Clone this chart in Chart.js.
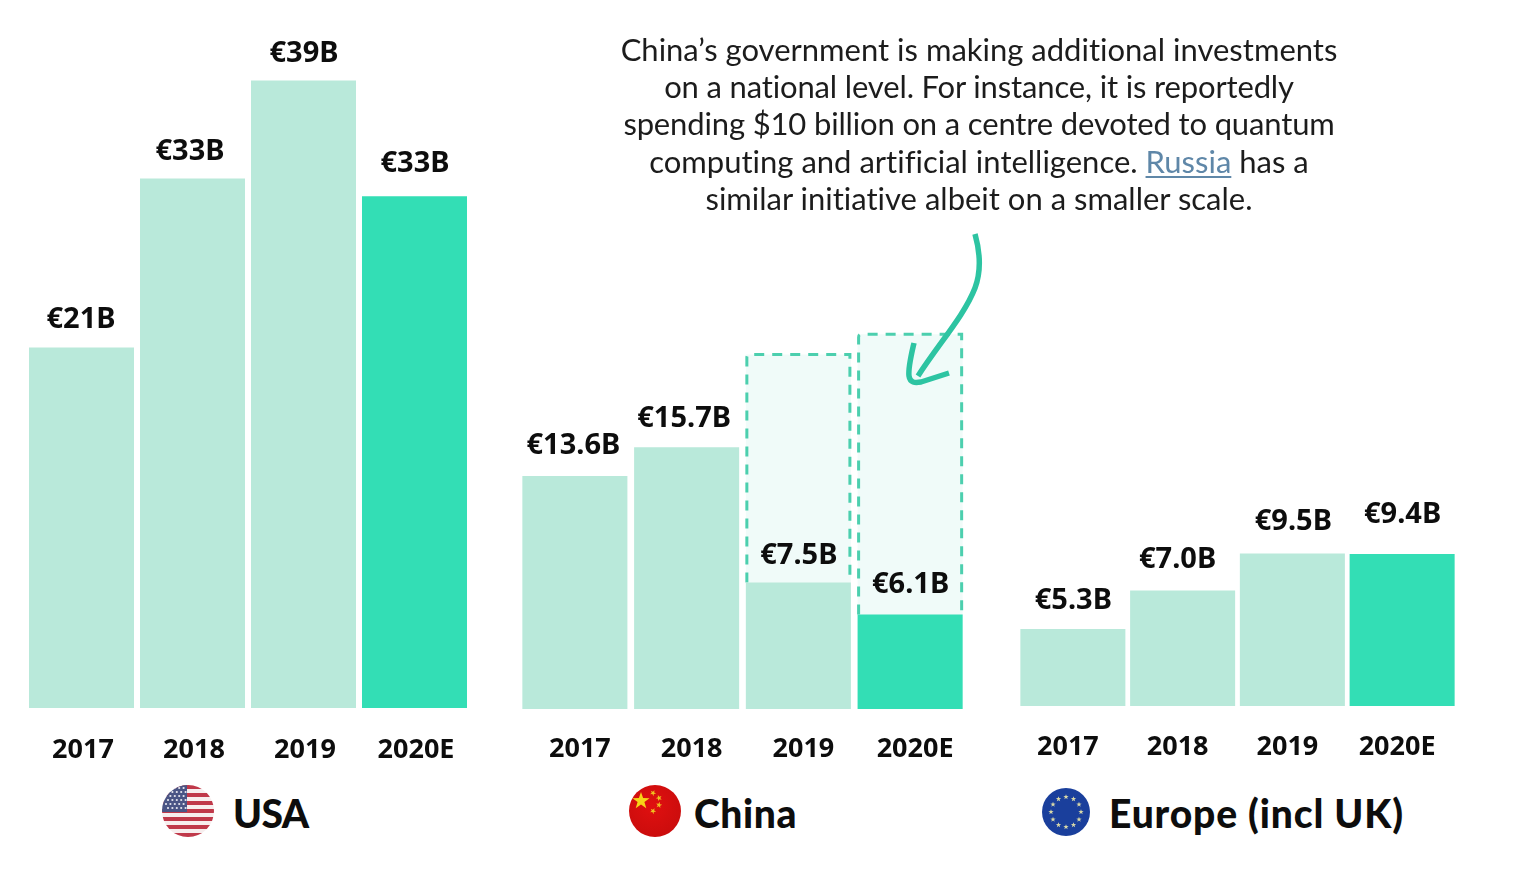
<!DOCTYPE html>
<html>
<head>
<meta charset="utf-8">
<script src="https://cdn.jsdelivr.net/npm/chart.js@4/dist/chart.umd.min.js"></script>
<style>
  html, body { margin: 0; padding: 0; background: #fff; }
  body { position: relative; width: 1526px; height: 891px; overflow: hidden; }
  canvas { position: absolute; top: 0; }
  .note { position: absolute; left: 479px; width: 1000px; text-align: center; white-space: nowrap;
          font: 400 31px/37px Lato, sans-serif; color: #1c1c1c; font-variant-ligatures: none; }
  .note a { color: #5f87a8; text-decoration: underline; text-decoration-thickness: 2px; text-underline-offset: 3px; }
  .title { position: absolute; top: 786px; font: 900 39px/54px Lato, sans-serif; color: #0d0d0d; white-space: nowrap; }
  svg { position: absolute; left: 0; top: 0; pointer-events: none; }
</style>
</head>
<body>
<canvas id="usa"></canvas>
<canvas id="china"></canvas>
<canvas id="europe"></canvas>

<div class="note" style="top:31px">China’s government is making additional investments</div>
<div class="note" style="top:68px;letter-spacing:-0.15px">on a national level. For instance, it is reportedly</div>
<div class="note" style="top:105px;letter-spacing:-0.15px">spending $10 billion on a centre devoted to quantum</div>
<div class="note" style="top:143px">computing and artificial intelligence. <a>Russia</a> has a</div>
<div class="note" style="top:180px">similar initiative albeit on a smaller scale.</div>

<div class="title" style="left:233px;letter-spacing:-0.6px">USA</div>
<div class="title" style="left:694px;letter-spacing:0.6px">China</div>
<div class="title" style="left:1109px;letter-spacing:0.85px">Europe (incl UK)</div>

<svg id="overlay" width="1526" height="891" xmlns="http://www.w3.org/2000/svg">
  <defs>
    <clipPath id="usClip"><circle cx="188" cy="811" r="26"/></clipPath>
    <radialGradient id="cnFill" cx="0.45" cy="0.4" r="0.7">
      <stop offset="0" stop-color="#e01010"/><stop offset="1" stop-color="#c80c0c"/>
    </radialGradient>
  </defs>
  <g id="usFlag" clip-path="url(#usClip)"></g>
  <g id="cnFlag"></g>
  <g id="euFlag"></g>
  <g fill="none" stroke="#2dc4a2" stroke-width="5.5" stroke-linecap="butt" stroke-linejoin="round">
    <path d="M975 234 C980 252 981 272 975 288 C964 316 940 342 918 376"/>
    <path d="M914 343 C911 356 908 368 909 376 C910 383 915 383 921 382 L949 373"/>
  </g>
</svg>

<script>
// Chart data. The printed labels do not always agree with
// the drawn bar heights in the original, so both are kept.
const years = ['2017', '2018', '2019', '2020E'];

const usaValues = [22.4, 32.9, 39.0, 31.8];
const usaLabels = ['€21B', '€33B', '€39B', '€33B'];

const chinaValues = [13.8, 15.5, 7.5, 5.6];
const chinaPlanned = [null, null, 21.0, 22.2];
const chinaLabels = ['€13.6B', '€15.7B', '€7.5B', '€6.1B'];

const europeValues = [4.8, 7.2, 9.5, 9.47];
const europeLabels = ['€5.3B', '€7.0B', '€9.5B', '€9.4B'];

const LIGHT = '#b9e9da';
const STRONG = '#33deb5';
const LABEL_FONT = '"Noto Sans", sans-serif';

// value labels above the bars, plus the dashed outline of the planned bars
const barExtras = {
  id: 'barExtras',
  beforeDatasetDraw(chart, args, opts) {
    if (args.index !== 0 || chart.data.datasets.length < 2) return;
    const { ctx } = chart;
    const solid = chart.getDatasetMeta(0).data;
    ctx.save();
    ctx.strokeStyle = '#4ccfae';
    ctx.lineWidth = 3;
    ctx.setLineDash([10, 8]);
    chart.getDatasetMeta(1).data.forEach((bar, i) => {
      if (chart.data.datasets[1].data[i] == null) return;
      const l = bar.x - bar.width / 2, r = bar.x + bar.width / 2;
      const bottom = solid[i].y;   // dashes stop where the solid bar starts
      ctx.beginPath();
      ctx.moveTo(l + 1, bottom);
      ctx.lineTo(l + 1, bar.y + 3);
      ctx.quadraticCurveTo(l + 1, bar.y, l + 4, bar.y);
      ctx.lineTo(r - 1, bar.y);
      ctx.lineTo(r - 1, bottom);
      ctx.stroke();
    });
    ctx.restore();
  },
  afterDatasetsDraw(chart, args, opts) {
    const { ctx } = chart;
    ctx.save();
    ctx.font = '700 29px ' + LABEL_FONT;
    ctx.fillStyle = '#0d0d0d';
    ctx.textAlign = 'center';
    ctx.textBaseline = 'middle';
    chart.getDatasetMeta(0).data.forEach((bar, i) => {
      ctx.fillText(opts.labels[i], bar.x + opts.dx[i], bar.y - opts.gap[i]);
    });
    ctx.restore();
  },
};

function drawPanel(id, cfg) {
  const el = document.getElementById(id);
  el.width = cfg.width;
  el.height = cfg.baseline + 60;
  el.style.left = cfg.left + 'px';
  el.style.width = cfg.width + 'px';
  el.style.height = (cfg.baseline + 60) + 'px';

  const datasets = [{
    data: cfg.values,
    backgroundColor: [LIGHT, LIGHT, LIGHT, STRONG],
    barPercentage: cfg.barPct,
    categoryPercentage: 1,
    grouped: false,
  }];
  if (cfg.planned) {
    datasets.push({
      data: cfg.planned,
      backgroundColor: '#f0fbf9',
      barPercentage: cfg.barPct,
      categoryPercentage: 1,
      grouped: false,
    });
  }

  new Chart(el, {
    type: 'bar',
    data: { labels: years, datasets },
    plugins: [barExtras],
    options: {
      responsive: false,
      animation: false,
      devicePixelRatio: 1,
      layout: { padding: 0 },
      plugins: {
        legend: { display: false },
        tooltip: { enabled: false },
        barExtras: { labels: cfg.labels, dx: cfg.dx, gap: cfg.gap },
      },
      scales: {
        y: { display: false, min: 0, max: cfg.yMax },
        x: {
          afterFit(scale) {
            scale.height = 60;
            scale.paddingLeft = 0;   // keep the wide 2020E label from squeezing the bars
            scale.paddingRight = 0;
          },
          grid: { display: false, drawTicks: false },
          border: { display: false },
          ticks: {
            padding: cfg.tickPad,
            labelOffset: cfg.tickOffset,
            maxRotation: 0,
            autoSkip: false,
            color: '#0d0d0d',
            font: { family: LABEL_FONT, size: 27, weight: '700' },
          },
        },
      },
    },
  });
}

drawPanel('usa', {
  left: 26, width: 444, baseline: 708, yMax: 44, barPct: 0.946, tickPad: 26, tickOffset: 1.5,
  values: usaValues, labels: usaLabels,
  dx: [-0.5, -2.5, 0.5, 0.5], gap: [28, 27, 27, 33],
});
drawPanel('china', {
  left: 519, width: 447, baseline: 709, yMax: 42, barPct: 0.94, tickPad: 24, tickOffset: 5,
  values: chinaValues, planned: chinaPlanned, labels: chinaLabels,
  dx: [-1.5, -2.5, 0.5, 0.5], gap: [30, 29, 27, 30],
});
drawPanel('europe', {
  left: 1018, width: 439, baseline: 706, yMax: 44, barPct: 0.957, tickPad: 25, tickOffset: -5,
  values: europeValues, labels: europeLabels,
  dx: [0.5, -5, 1, 0.5], gap: [28, 31, 32, 39],
});

// flags, decorative only
const NS = 'http://www.w3.org/2000/svg';
function add(parent, tag, attrs) {
  const n = document.createElementNS(NS, tag);
  for (const k in attrs) n.setAttribute(k, attrs[k]);
  parent.appendChild(n);
  return n;
}
function star(cx, cy, r, rot) {
  const pts = [];
  for (let i = 0; i < 10; i++) {
    const a = (rot || 0) - Math.PI / 2 + i * Math.PI / 5;
    const q = i % 2 ? r * 0.4 : r;
    pts.push((cx + q * Math.cos(a)).toFixed(2) + ',' + (cy + q * Math.sin(a)).toFixed(2));
  }
  return pts.join(' ');
}

const us = document.getElementById('usFlag');
add(us, 'rect', { x: 162, y: 785, width: 52, height: 52, fill: '#f7eeee' });
for (let i = 0; i < 7; i++) {
  add(us, 'rect', { x: 162, y: 785 + i * 8, width: 52, height: 4, fill: '#c0394a' });
}
add(us, 'rect', { x: 162, y: 785, width: 25, height: 27, fill: '#4a5585' });
for (let row = 0; row < 6; row++) {
  for (let col = 0; col < 5; col++) {
    add(us, 'circle', { cx: 166 + col * 4.4 + (row % 2) * 2, cy: 788 + row * 4, r: 1.1, fill: '#e8e8f0' });
  }
}

const cn = document.getElementById('cnFlag');
add(cn, 'circle', { cx: 655, cy: 811, r: 26, fill: 'url(#cnFill)' });
add(cn, 'polygon', { points: star(641, 801, 9), fill: '#f7d417' });
add(cn, 'polygon', { points: star(653, 793, 3.2, 0.5), fill: '#f0c020' });
add(cn, 'polygon', { points: star(659, 798, 3.2, 0.9), fill: '#f0c020' });
add(cn, 'polygon', { points: star(659, 805, 3.2, 0.2), fill: '#f0c020' });
add(cn, 'polygon', { points: star(653, 811, 3.2, 0.5), fill: '#f0c020' });

const eu = document.getElementById('euFlag');
add(eu, 'circle', { cx: 1066, cy: 812, r: 24, fill: '#1a3f9c' });
for (let i = 0; i < 12; i++) {
  const a = i * Math.PI / 6;
  add(eu, 'polygon', { points: star(1066 + 15 * Math.cos(a), 812 + 15 * Math.sin(a), 2.8), fill: '#d8d8a8' });
}
</script>
</body>
</html>
